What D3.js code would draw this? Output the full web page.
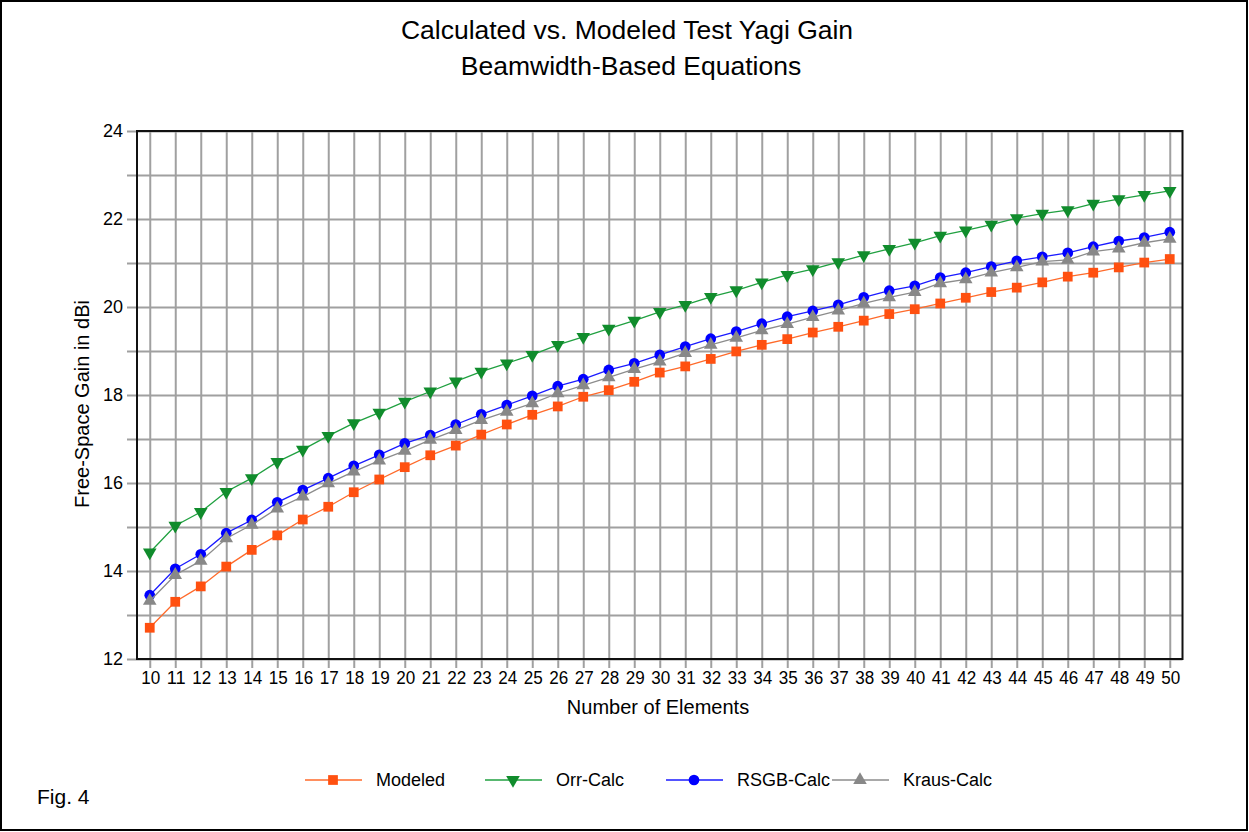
<!DOCTYPE html>
<html>
<head>
<meta charset="utf-8">
<script src="https://cdn.jsdelivr.net/npm/d3@7"></script>
<style>
  body { margin: 0; background: #fff; }
  svg { display: block; font-family: Arial, "Liberation Sans", sans-serif; }
  .grid line { stroke: #a0a0a0; stroke-width: 2; }
  .grid path { display: none; }
  .axis text { font-size: 18px; fill: #000; }
</style>
</head>
<body>
<svg class="chart"></svg>
<script>
// number of elements on the boom
var elements = [10, 11, 12, 13, 14, 15, 16, 17, 18, 19, 20, 21, 22, 23, 24, 25, 26, 27, 28, 29, 30,
  31, 32, 33, 34, 35, 36, 37, 38, 39, 40, 41, 42, 43, 44, 45, 46, 47, 48, 49, 50];

var modeled = [12.71, 13.30, 13.65, 14.10, 14.48, 14.81, 15.17, 15.46, 15.79, 16.08, 16.36, 16.63, 16.85, 17.10,
  17.33, 17.55, 17.74, 17.96, 18.11, 18.30, 18.51, 18.65, 18.82, 18.99, 19.14, 19.27, 19.42, 19.55, 19.69, 19.84,
  19.95, 20.08, 20.21, 20.34, 20.44, 20.56, 20.69, 20.78, 20.90, 21.01, 21.09];
var orrCalc = [14.42, 15.03, 15.34, 15.80, 16.11, 16.48, 16.76, 17.07, 17.36, 17.60, 17.85, 18.08, 18.31, 18.53,
  18.72, 18.91, 19.14, 19.32, 19.51, 19.69, 19.89, 20.05, 20.23, 20.38, 20.56, 20.73, 20.86, 21.02, 21.18, 21.32,
  21.46, 21.62, 21.74, 21.87, 22.02, 22.12, 22.20, 22.35, 22.45, 22.55, 22.64];
var rsgbCalc = [13.45, 14.05, 14.38, 14.86, 15.16, 15.56, 15.84, 16.11, 16.39, 16.64, 16.90, 17.09, 17.33, 17.56,
  17.77, 17.98, 18.20, 18.36, 18.57, 18.72, 18.91, 19.10, 19.28, 19.44, 19.62, 19.78, 19.91, 20.05, 20.22, 20.37,
  20.48, 20.67, 20.78, 20.92, 21.05, 21.14, 21.23, 21.37, 21.50, 21.58, 21.70];
var krausCalc = [13.32, 13.91, 14.23, 14.74, 15.05, 15.42, 15.69, 15.99, 16.26, 16.51, 16.73, 16.98, 17.20, 17.43,
  17.62, 17.81, 18.04, 18.22, 18.40, 18.59, 18.76, 18.95, 19.14, 19.30, 19.47, 19.61, 19.77, 19.92, 20.08, 20.22,
  20.34, 20.54, 20.63, 20.78, 20.90, 21.03, 21.07, 21.26, 21.33, 21.46, 21.55];

var seriesNames = ['Modeled', 'Orr-Calc', 'RSGB-Calc', 'Kraus-Calc'];
var yTicks = [12, 14, 16, 18, 20, 22, 24];
var yGrid = [12, 13, 14, 15, 16, 17, 18, 19, 20, 21, 22, 23, 24];

var series = [
  { name: seriesNames[0], values: modeled, line: '#ff6a2a', fill: '#ff5010', symbol: d3.symbolSquare, size: 95, rot: 0 },
  { name: seriesNames[1], values: orrCalc, line: '#20a040', fill: '#108c2c', symbol: d3.symbolTriangle, size: 80, rot: 180 },
  { name: seriesNames[2], values: rsgbCalc, line: '#1a1aff', fill: '#0000ff', symbol: d3.symbolCircle, size: 90, rot: 0 },
  { name: seriesNames[3], values: krausCalc, line: '#8c8c8c', fill: '#888888', symbol: d3.symbolTriangle, size: 80, rot: 0 }
];

var W = 1249, H = 832;
var plot = { left: 137, right: 1182.5, top: 131, bottom: 659 };

var x = d3.scaleLinear().domain([9.5, 50.5]).range([plot.left, plot.right]);
var y = d3.scaleLinear().domain([12, 24]).range([plot.bottom, plot.top]);

var svg = d3.select('.chart')
  .attr('width', W)
  .attr('height', H);

// outer frame
svg.append('rect')
  .attr('x', 1).attr('y', 1)
  .attr('width', W - 3).attr('height', H - 3)
  .attr('fill', '#fff')
  .attr('stroke', '#000')
  .attr('stroke-width', 2);

// title
svg.append('text')
  .attr('x', 627).attr('y', 39)
  .attr('text-anchor', 'middle')
  .style('font-size', '26.5px')
  .text('Calculated vs. Modeled Test Yagi Gain');
svg.append('text')
  .attr('x', 631).attr('y', 75)
  .attr('text-anchor', 'middle')
  .style('font-size', '26.5px')
  .text('Beamwidth-Based Equations');

// grid lines, drawn as axes with long ticks
svg.append('g')
  .attr('class', 'grid')
  .attr('transform', 'translate(' + plot.right + ',0)')
  .call(d3.axisLeft(y).tickValues(yGrid).tickSize(plot.right - plot.left + 10).tickFormat(''));

svg.append('g')
  .attr('class', 'grid')
  .attr('transform', 'translate(0,' + plot.top + ')')
  .call(d3.axisBottom(x).tickValues(elements).tickSize(plot.bottom - plot.top + 9).tickFormat(''));

// plot frame
svg.append('rect')
  .attr('x', plot.left).attr('y', plot.top)
  .attr('width', plot.right - plot.left).attr('height', plot.bottom - plot.top)
  .attr('fill', 'none')
  .attr('stroke', '#111')
  .attr('stroke-width', 2);

// tick labels
var yAxis = svg.append('g')
  .attr('class', 'axis')
  .attr('transform', 'translate(' + (plot.left - 12) + ',0)')
  .call(d3.axisLeft(y).tickValues(yTicks).tickSize(0).tickPadding(2));
yAxis.select('.domain').remove();

var xAxis = svg.append('g')
  .attr('class', 'axis')
  .attr('transform', 'translate(0,' + (plot.bottom + 11) + ')')
  .call(d3.axisBottom(x).tickValues(elements).tickSize(0).tickPadding(1));
xAxis.select('.domain').remove();
xAxis.selectAll('text').attr('dx', '0.5px').attr('textLength', 19).attr('lengthAdjust', 'spacingAndGlyphs');

// axis titles
svg.append('text')
  .attr('x', 658).attr('y', 714)
  .attr('text-anchor', 'middle')
  .style('font-size', '20px')
  .text('Number of Elements');
svg.append('text')
  .attr('transform', 'translate(89,404) rotate(-90)')
  .attr('text-anchor', 'middle')
  .style('font-size', '20px')
  .text('Free-Space Gain in dBi');

// series
var line = d3.line()
  .x((d, i) => x(elements[i]))
  .y(d => y(d));

series.forEach(s => {
  var g = svg.append('g').attr('class', 'series');
  g.append('path')
    .attr('d', line(s.values))
    .attr('fill', 'none')
    .attr('stroke', s.line)
    .attr('stroke-width', 1.3);
  g.selectAll('.dot')
    .data(s.values)
    .enter().append('path')
    .attr('class', 'dot')
    .attr('d', d3.symbol().type(s.symbol).size(s.size))
    .attr('transform', (d, i) => 'translate(' + x(elements[i]) + ',' + y(d) + ') rotate(' + s.rot + ')')
    .attr('fill', s.fill);
});

// legend
var legendX = [305, 485, 666, 832];
var legend = svg.selectAll('.legend')
  .data(series)
  .enter().append('g')
  .attr('class', 'legend')
  .attr('transform', (d, i) => 'translate(' + legendX[i] + ',780)');
legend.append('line')
  .attr('x1', 0).attr('x2', 57)
  .attr('stroke', d => d.line)
  .attr('stroke-width', 1.5);
legend.append('path')
  .attr('d', d => d3.symbol().type(d.symbol).size(d.size)())
  .attr('transform', d => 'translate(28,0) rotate(' + d.rot + ')')
  .attr('fill', d => d.fill);
legend.append('text')
  .attr('x', 71).attr('y', 6)
  .style('font-size', '18px')
  .text(d => d.name);

svg.append('text')
  .attr('x', 37).attr('y', 804)
  .style('font-size', '21px')
  .text('Fig. 4');
</script>
</body>
</html>
